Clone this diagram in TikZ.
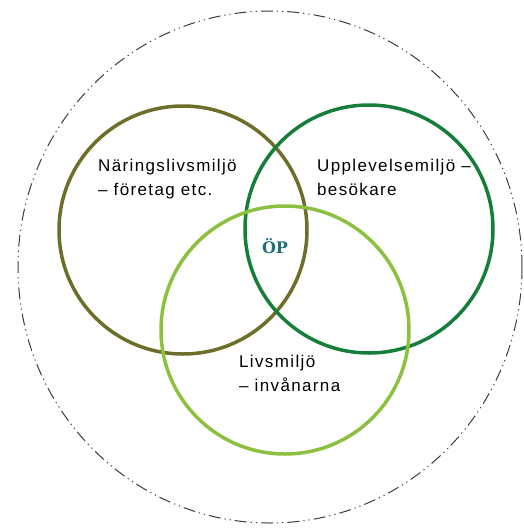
\documentclass[tikz,border=0pt]{standalone}
\usepackage{fontspec}
\setmainfont{Liberation Sans}
\newfontfamily\opfont{DejaVu Serif}
\usetikzlibrary{positioning}

\definecolor{olivering}{RGB}{108,110,42}
\definecolor{darkring}{RGB}{22,126,58}
\definecolor{lightring}{RGB}{142,192,64}
\definecolor{opteal}{RGB}{32,112,124}
\definecolor{outerline}{RGB}{60,60,60}

\begin{document}
\begin{tikzpicture}[
        x=1pt, y=-1pt,
        ring/.style={line width=3.5pt},
        outer/.style={
        draw=outerline, line width=1pt,
        dash pattern=on 12pt off 4pt on 1.2pt off 4pt on 1.2pt off 4pt
        },
        areatext/.style={
        anchor=base west, inner sep=0pt, align=left,
        font=\fontsize{17}{24}\selectfont\addfontfeatures{LetterSpace=8}
        }
        ]
        \useasboundingbox (0,0) rectangle (524,531);

        % outer boundary
        \draw[outer] (270,267) ellipse [x radius=252, y radius=256];

        % the three environments
        \draw[ring, olivering] (183,230) circle [radius=124];
        \draw[ring, darkring] (369,229) circle [radius=124];
        \draw[ring, lightring] (285,330) circle [radius=124];

        % base anchor sits on the last line
        \node[areatext] (N) at (98,195.5) {Näringslivsmiljö\\– företag etc.};
        \node[areatext] (U) at (317,195) {Upplevelsemiljö –\\besökare};
        \node[areatext] (L) at (239,391.5) {Livsmiljö\\– invånarna};

        \node[inner sep=0pt, text=opteal, font=\opfont\bfseries\fontsize{16}{18}\selectfont] (OP) at (275,246) {ÖP};
    \end{tikzpicture}
\end{document}
